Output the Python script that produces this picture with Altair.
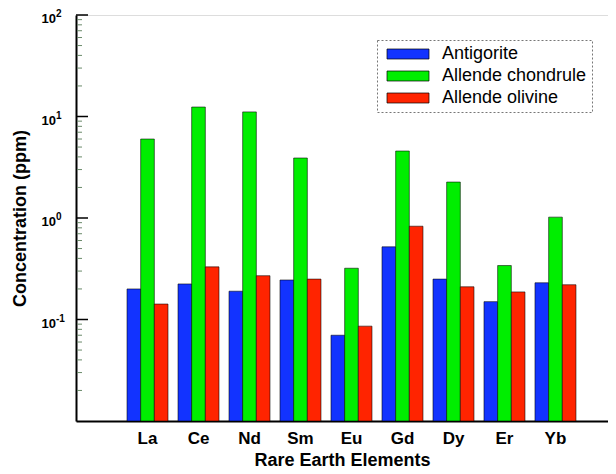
import altair as alt
import pandas as pd

elements = ["La", "Ce", "Nd", "Sm", "Eu", "Gd", "Dy", "Er", "Yb"]
series_names = ["Antigorite", "Allende chondrule", "Allende olivine"]
antigorite = [0.20, 0.224, 0.19, 0.245, 0.070, 0.52, 0.25, 0.15, 0.23]
chondrule = [6.0, 12.4, 11.1, 3.9, 0.32, 4.57, 2.26, 0.34, 1.02]
olivine = [0.142, 0.33, 0.27, 0.25, 0.086, 0.83, 0.21, 0.187, 0.22]
colors = ["#1233ff", "#00ee00", "#ff2400"]

decades = [100, 10, 1, 0.1]
exponents = ["2", "1", "0", "-1"]
minor_ticks = [m * d for d in [0.01, 0.1, 1, 10] for m in range(2, 10)]

rows = []
for s, vals in zip(series_names, [antigorite, chondrule, olivine]):
    for e, v in zip(elements, vals):
        rows.append({"element": e, "series": s, "value": v})
df = pd.DataFrame(rows)

FONT = "Liberation Sans"
W, H = 532, 406
yscale = alt.Scale(type="log", domain=[0.01, 100])

bars = alt.Chart(df).mark_bar(stroke="black", strokeWidth=0.7, strokeOpacity=0.8).encode(
    x=alt.X("element:N", sort=elements, title="Rare Earth Elements",
            scale=alt.Scale(paddingInner=0, paddingOuter=0.716, align=0.63),
            axis=alt.Axis(labelAngle=0, ticks=False, domain=True, domainColor="black",
                          domainWidth=2, labelFontSize=17,
                          labelFontWeight="bold", labelPadding=9, labelColor="black",
                          titleFontSize=18, titleFontWeight="bold", titlePadding=5,
                          titleColor="black", labelFont=FONT, titleFont=FONT)),
    xOffset=alt.XOffset("series:N", sort=series_names,
                        scale=alt.Scale(paddingInner=0, paddingOuter=0.366)),
    y=alt.Y("value:Q", scale=yscale, title="Concentration (ppm)",
            axis=alt.Axis(labels=False, ticks=False, domain=True, domainColor="black",
                          domainWidth=2, grid=False,
                          titleFontSize=18, titleFontWeight="bold", titleColor="black",
                          titleFont=FONT, titlePadding=47)),
    y2=alt.Y2Datum(0.01),
    color=alt.Color("series:N", sort=series_names,
                    scale=alt.Scale(domain=series_names, range=colors),
                    legend=alt.Legend(title=None, orient="none", legendX=301, legendY=25,
                                      symbolType="M-4.2,-1H4.2V1H-4.2Z", symbolSize=100,
                                      symbolStrokeColor="black", symbolStrokeWidth=0.7,
                                      labelFontSize=18, labelFont=FONT, labelColor="black",
                                      symbolOffset=17, labelOffset=25, rowPadding=4,
                                      padding=5, strokeColor="#777",
                                      fillColor="white")),
)

tick_df = pd.DataFrame({"v": decades})
major = alt.Chart(tick_df).mark_rule(color="black", strokeWidth=1.5).encode(
    y=alt.Y("v:Q", scale=yscale), x=alt.value(0), x2=alt.value(12))

minor = alt.Chart(pd.DataFrame({"v": minor_ticks})).mark_rule(color="#6a8a6a", strokeWidth=1).encode(
    y=alt.Y("v:Q", scale=yscale), x=alt.value(1), x2=alt.value(6))

lab_df = pd.DataFrame({"v": decades, "e": exponents})
base_lbl = alt.Chart(lab_df).mark_text(align="right", baseline="middle", dy=4, fontSize=13,
                                       fontWeight="bold", font=FONT, color="black").encode(
    y=alt.Y("v:Q", scale=yscale), x=alt.value(-20), text=alt.value("10"))
exp_lbl = alt.Chart(lab_df).mark_text(align="left", baseline="middle", dy=-1, fontSize=10,
                                      fontWeight="bold", font=FONT, color="black").encode(
    y=alt.Y("v:Q", scale=yscale), x=alt.value(-20), text="e:N")

chart = alt.layer(bars, minor, major, base_lbl, exp_lbl).properties(
    width=W, height=H, autosize="none",
    padding={"left": 68, "top": 7, "right": 0, "bottom": 53},
).configure_view(stroke="black", strokeWidth=2).configure(font=FONT).configure_legend(
    strokeDash=[2, 2])

chart.save("out.html", embed_options={"renderer": "svg", "actions": False})
